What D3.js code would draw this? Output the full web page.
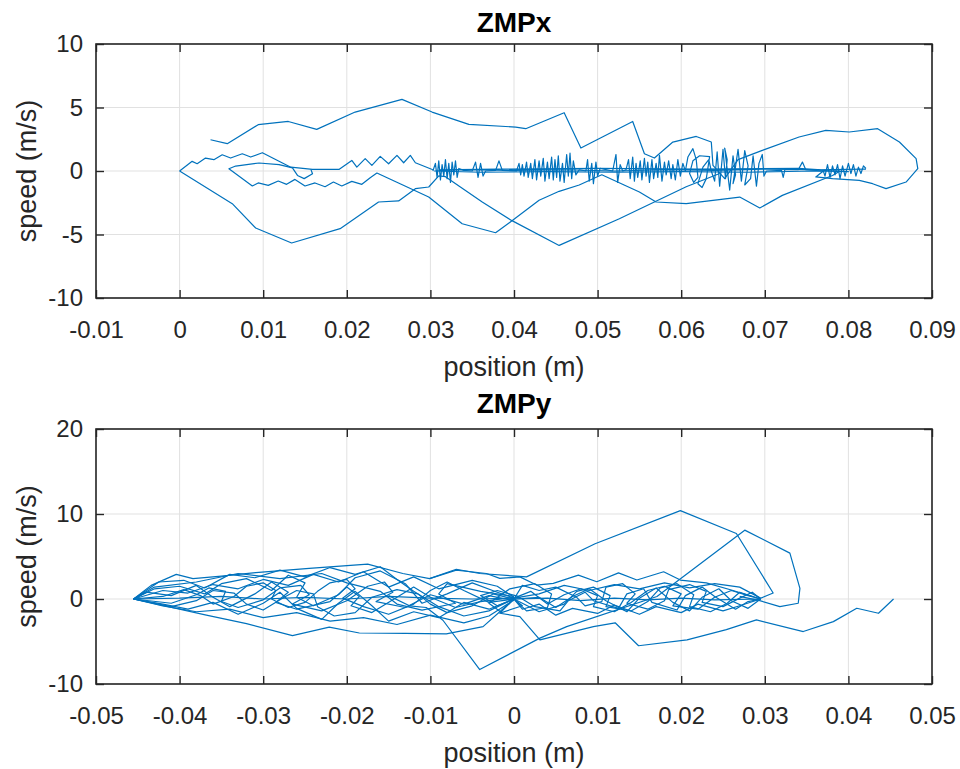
<!DOCTYPE html>
<html>
<head>
<meta charset="utf-8">
<script src="https://cdn.jsdelivr.net/npm/d3@7"></script>
<style>
  body { margin: 0; background: #fff; }
  svg text { font-family: "Liberation Sans", Arial, Helvetica, sans-serif; fill: #262626; }
</style>
</head>
<body>
<div id="chart"></div>
<script>
// ZMP phase plots: speed vs position.
// Every trace is a list of [position (m), speed (m/s)] pairs.

// ---- ZMPx ----
const zmpxXTicks = [-0.01, 0, 0.01, 0.02, 0.03, 0.04, 0.05, 0.06, 0.07, 0.08, 0.09];
const zmpxYTicks = [-10, -5, 0, 5, 10];

const zmpxUpper = [[0.0037,2.46],[0.0057,2.15],[0.0094,3.65],[0.0130,3.90],[0.0164,3.28],[0.0210,4.64],
  [0.0266,5.64],[0.0302,4.64],[0.0346,3.67],[0.0402,3.46],[0.0414,3.33],[0.0460,4.59],[0.0480,1.81],
  [0.0542,3.90],[0.0556,1.36],[0.0568,1.02],[0.0590,2.28],[0.0618,2.72],[0.0636,2.28],[0.0638,0.44],
  [0.0652,-0.6],[0.0668,0.9],[0.0697,1.62],[0.0741,2.68],[0.0773,3.20],[0.0801,3.07],[0.0835,3.33],
  [0.0861,2.28],[0.0881,0.97],[0.0883,0.18],[0.0869,-0.87],[0.0845,-1.39],[0.0829,-1.0],[0.0813,-0.74],
  [0.0781,-0.60],[0.0761,-0.47],[0.0770,0.0]];

const zmpxLower = [[0,0],[0.0063,-2.57],[0.0091,-4.49],[0.0134,-5.67],[0.0192,-4.54],[0.0238,-2.44],
  [0.0262,-2.36],[0.0282,-1.39],[0.0298,-1.26],[0.0310,-0.39],[0.0318,-0.45],[0.0362,-2.44],
  [0.0397,-3.89],[0.0454,-5.86],[0.0526,-3.76],[0.0606,-1.24],[0.0646,-0.2]];

const zmpxZigzag = [[0,0],[0.0015,0.76],[0.0021,0.57],[0.0031,1.02],[0.0041,0.89],[0.0051,1.28],
  [0.0061,1.02],[0.0075,1.36],[0.0085,1.10],[0.0099,1.44],[0.0133,0.30],[0.0159,0.13],[0.0191,0.13],
  [0.0206,0.83],[0.0212,0.31],[0.0222,0.97],[0.0230,0.44],[0.0240,1.15],[0.0250,0.57],[0.0260,1.23],
  [0.0268,0.65],[0.0276,1.23],[0.0282,0.65],[0.0303,0.10]];

const zmpxLoop = [[0.0157,0.13],[0.0159,-0.21],[0.0149,-0.60],[0.0141,-0.35],[0.0135,0.24],[0.0119,0.50],
  [0.0095,0.63],[0.0067,0.39],[0.0059,0.18],[0.0087,-1.18],[0.0094,-0.94],[0.0106,-1.13],[0.0118,-0.79],
  [0.0128,-1.05],[0.0138,-0.66],[0.0150,-1.18],[0.0162,-0.94],[0.0174,-1.24],[0.0184,-0.87],[0.0194,-1.18],
  [0.0206,-0.82],[0.0218,-1.05],[0.0228,-0.53],[0.0236,-0.16],[0.0298,-2.05],[0.0338,-4.15],[0.0378,-4.86],
  [0.0398,-3.90],[0.0430,-2.30],[0.0454,-1.60],[0.0478,-1.10],[0.0505,-0.30],[0.0550,-1.65],[0.0570,-2.44],
  [0.0606,-2.57],[0.0670,-2.05],[0.0694,-2.91],[0.0721,-1.92],[0.0781,-0.35],[0.0790,0.0]];

const zmpxNoise = [[0.0303,0.0],[0.0306,0.6],[0.0308,-0.5],[0.0310,0.8],[0.0312,-0.7],[0.0314,0.5],
  [0.0316,-0.4],[0.0318,0.9],[0.0320,-0.6],[0.0322,0.6],[0.0324,-0.9],[0.0326,0.7],[0.0328,-0.3],
  [0.0330,0.8],[0.0332,-0.5],[0.0334,0.2],[0.0340,0.05],[0.0350,0.0],[0.0354,0.7],[0.0357,-0.5],
  [0.0360,0.6],[0.0363,-0.4],[0.0366,0.0],[0.0378,0.05],[0.0382,0.8],[0.0386,0.05],[0.0403,0.0],
  [0.0406,0.6],[0.0408,-0.3],[0.0410,0.5],[0.0412,-0.4],[0.0415,0.7],[0.0417,-0.5],[0.0420,0.6],
  [0.0422,-0.6],[0.0425,0.9],[0.0427,-0.7],[0.0430,0.8],[0.0432,-0.4],[0.0435,1.0],[0.0437,-0.8],
  [0.0440,0.7],[0.0442,-0.6],[0.0445,1.1],[0.0447,-0.7],[0.0449,0.9],[0.0451,-0.5],[0.0453,1.2],
  [0.0455,-0.8],[0.0458,0.6],[0.0460,-0.9],[0.0463,1.3],[0.0465,-0.4],[0.0467,1.4],[0.0469,-0.6],
  [0.0471,0.8],[0.0474,-0.3],[0.0478,0.1],[0.0486,0.0],[0.0488,0.9],[0.0490,-0.8],[0.0493,0.6],
  [0.0495,-1.0],[0.0498,0.7],[0.0500,-0.4],[0.0503,0.2],[0.0518,0.0],[0.0522,1.3],[0.0524,-0.9],
  [0.0527,0.5],[0.0530,0.0],[0.0534,0.1],[0.0537,0.9],[0.0539,-0.6],[0.0542,1.1],[0.0544,-0.8],
  [0.0546,0.6],[0.0548,-0.5],[0.0551,0.8],[0.0553,-0.7],[0.0556,1.0],[0.0558,-0.4],[0.0560,0.7],
  [0.0562,-0.9],[0.0565,0.9],[0.0567,-0.6],[0.0570,0.6],[0.0572,-0.5],[0.0574,1.23],[0.0577,-0.8],
  [0.0580,0.7],[0.0582,-0.3],[0.0585,0.8],[0.0588,-0.6],[0.0590,0.5],[0.0593,-0.7],[0.0596,0.9],
  [0.0599,-0.4],[0.0602,0.6],[0.0605,0.0],[0.0608,1.1],[0.0614,1.76],[0.0618,0.9],[0.0620,-0.5],
  [0.0615,-0.9],[0.0610,-0.2],[0.0614,0.8],[0.0622,1.2],[0.0634,1.13],[0.0630,-0.6],[0.0625,-1.3],
  [0.0620,-1.0],[0.0626,0.3],[0.0633,0.9],[0.0636,0.0],[0.0640,-0.8],[0.0643,1.5],[0.0646,-1.2],
  [0.0650,1.7],[0.0653,-0.6],[0.0655,0.9],[0.0652,1.8],[0.0658,-1.5],[0.0662,1.2],[0.0665,-0.3],
  [0.0662,-1.0],[0.0668,1.7],[0.0672,-0.8],[0.0676,1.6],[0.0680,0.4],[0.0676,-1.1],[0.0683,-0.6],
  [0.0686,1.2],[0.0690,-1.2],[0.0693,0.6],[0.0697,1.3],[0.0699,-0.4],[0.0702,0.0],[0.0720,0.05],
  [0.0722,-0.5],[0.0724,0.1],[0.0740,0.1],[0.0745,0.7],[0.0749,0.1],[0.0770,0.0],[0.0772,-0.4],
  [0.0775,0.5],[0.0778,-0.5],[0.0781,0.4],[0.0784,-0.3],[0.0787,0.5],[0.0790,-0.6],[0.0793,0.4],
  [0.0796,-0.4],[0.0800,0.6],[0.0803,-0.2],[0.0806,0.5],[0.0809,-0.4],[0.0812,0.3],[0.0815,-0.2],
  [0.0818,0.4],[0.0821,0.2]];

const zmpxFlat = [[0.0821,0.15],[0.0760,0.1],[0.0700,0.15],[0.0640,0.05],[0.0580,0.1],[0.0520,0.0],
  [0.0460,0.1],[0.0400,0.05],[0.0340,0.1],[0.0305,0.0],[0.0360,-0.1],[0.0440,-0.05],[0.0520,-0.1],
  [0.0600,-0.05],[0.0680,-0.1],[0.0760,0.0],[0.0800,-0.05],[0.0740,0.2],[0.0620,0.15],[0.0500,0.2],
  [0.0380,0.15],[0.0310,0.1]];

// ---- ZMPy ----
const zmpyXTicks = [-0.05, -0.04, -0.03, -0.02, -0.01, 0, 0.01, 0.02, 0.03, 0.04, 0.05];
const zmpyYTicks = [-10, 0, 10, 20];

const zmpyOuterUpper = [[-0.0455,0],[-0.0434,1.6],[-0.0404,2.9],[-0.0384,2.4],[-0.0350,2.7],[-0.0309,3.1],
  [-0.0245,3.6],[-0.0175,4.1],[-0.0133,3.0],[-0.0101,2.4],[-0.0069,3.5],[-0.0041,3.0],[0.0015,2.6],
  [0.0097,6.5],[0.0199,10.4],[0.0266,7.7],[0.0310,0.7],[0.0290,-0.1]];

const zmpyOuterLower = [[0.0000,0.0],[-0.0037,-3.25],[-0.0081,-4.1],[-0.0130,-4.05],[-0.0185,-4.0],
  [-0.0221,-3.3],[-0.0265,-4.3],[-0.0320,-2.9],[-0.0368,-1.9],[-0.0455,0]];

const zmpyExcursion = [[-0.0150,0.4],[-0.0125,-0.8],[-0.0105,-1.0],[-0.0085,-2.5],[-0.0041,-8.3],
  [0.0031,-4.6],[0.0063,-3.25],[0.0171,0.3],[0.0276,8.1],[0.0330,5.4],[0.0342,1.25],[0.0340,-0.5],
  [0.0318,-0.9],[0.0294,-0.2],[0.0270,0.3]];

const zmpyEnd = [[0.0000,0.0],[-0.0017,-1.68],[0.0007,-2.07],[0.0031,-4.8],[0.0095,-3.25],[0.0121,-2.8],
  [0.0149,-5.5],[0.0207,-4.8],[0.0254,-3.6],[0.0290,-2.46],[0.0346,-3.83],[0.0382,-2.66],[0.0410,-1.09],
  [0.0436,-1.68],[0.0454,0]];

const zmpyMidZig = [[-0.0101,2.4],[-0.0069,3.4],[-0.0033,3.0],[-0.0017,2.42],[0.0007,2.6],[0.0027,1.64],
  [0.0047,1.84],[0.0077,2.81],[0.0099,2.03],[0.0125,3.08],[0.0147,2.23],[0.0179,3.2],[0.0199,2.23],
  [0.0230,1.9],[0.0262,1.0],[0.0285,0.3]];

const zmpyLeftA = [[-0.0455,0],[-0.0430,1.2],[-0.0400,1.5],[-0.0370,0.6],[-0.0350,1.8],[-0.0320,2.4],
  [-0.0290,1.0],[-0.0270,2.8],[-0.0250,1.9],[-0.0260,0.2],[-0.0240,-0.8],[-0.0210,0.5],[-0.0190,2.5],
  [-0.0160,3.3],[-0.0130,1.8],[-0.0110,-0.5],[-0.0080,0.6],[-0.0050,1.9],[-0.0020,0.8],[0.0000,0.1]];
const zmpyLeftB = [[0.0000,0.0],[-0.0030,-1.2],[-0.0060,-0.4],[-0.0090,-2.2],[-0.0120,-1.5],[-0.0150,-2.6],
  [-0.0170,-0.8],[-0.0190,0.9],[-0.0210,-0.5],[-0.0230,-2.4],[-0.0260,-1.1],[-0.0280,0.8],[-0.0300,-0.5],
  [-0.0330,-1.8],[-0.0360,-0.4],[-0.0390,-1.2],[-0.0420,-0.6],[-0.0455,0]];
const zmpyLeftC = [[-0.0455,0],[-0.0440,0.8],[-0.0410,0.4],[-0.0380,1.6],[-0.0360,0.2],[-0.0340,-0.9],
  [-0.0310,0.6],[-0.0290,2.0],[-0.0270,0.8],[-0.0285,-0.4],[-0.0260,-1.2],[-0.0220,-0.3],[-0.0200,1.4],
  [-0.0185,0.3],[-0.0195,-0.8],[-0.0170,-1.6],[-0.0140,0.2],[-0.0120,1.4],[-0.0100,0.2],[-0.0070,-1.0],
  [-0.0040,-0.3],[0.0000,0.2]];
const zmpyLeftD = [[0.0000,0.2],[-0.0020,1.5],[-0.0050,2.2],[-0.0090,1.2],[-0.0120,2.6],[-0.0150,1.4],
  [-0.0180,3.2],[-0.0210,2.0],[-0.0240,2.9],[-0.0270,1.6],[-0.0300,2.3],[-0.0330,1.2],[-0.0360,1.7],
  [-0.0390,0.7],[-0.0420,1.0],[-0.0455,0]];
const zmpyLeftE = [[-0.0455,0],[-0.0400,0.1],[-0.0350,0.3],[-0.0300,0.0],[-0.0250,0.2],[-0.0200,0.0],
  [-0.0150,0.3],[-0.0100,0.1],[-0.0050,0.0],[0.0000,0.1]];
const zmpyLeftF = [[0.0000,-0.1],[-0.0030,-2.0],[-0.0060,-2.8],[-0.0100,-1.9],[-0.0140,-3.0],[-0.0180,-2.2],
  [-0.0220,-2.6],[-0.0260,-1.6],[-0.0300,-2.2],[-0.0340,-1.2],[-0.0380,-1.5],[-0.0420,-0.8],[-0.0455,0]];
const zmpyLeftG = [[-0.0455,0],[-0.0410,-0.5],[-0.0380,0.5],[-0.0365,1.3],[-0.0345,0.9],[-0.0350,-0.3],
  [-0.0330,-1.0],[-0.0300,-0.1],[-0.0280,1.3],[-0.0255,1.6],[-0.0245,0.5],[-0.0265,-0.6],[-0.0230,-1.4],
  [-0.0200,-0.2],[-0.0175,1.5],[-0.0155,2.0],[-0.0145,0.8],[-0.0165,-0.3],[-0.0130,-1.0],[-0.0100,0.5],
  [-0.0060,-0.6],[-0.0030,0.4],[0.0000,-0.2]];
const zmpyLeftH = [[0.0000,0.3],[-0.0040,0.9],[-0.0080,1.8],[-0.0090,0.6],[-0.0070,-0.5],[-0.0110,-1.3],
  [-0.0140,-0.6],[-0.0160,0.9],[-0.0200,1.9],[-0.0230,3.0],[-0.0280,2.4],[-0.0330,3.0],[-0.0380,2.0],
  [-0.0430,1.4],[-0.0455,0]];
const zmpyLeftI = [[-0.0455,0],[-0.0420,0.3],[-0.0395,1.1],[-0.0375,0.4],[-0.0360,-0.6],[-0.0335,0.3],
  [-0.0320,1.5],[-0.0300,1.9],[-0.0285,1.0],[-0.0290,0.0],[-0.0270,-1.0],[-0.0250,-0.4],[-0.0235,0.9],
  [-0.0220,1.9],[-0.0200,2.3],[-0.0190,1.2],[-0.0205,0.1],[-0.0180,-0.9],[-0.0150,-1.8],[-0.0120,-0.6],
  [-0.0100,1.0],[-0.0080,2.0],[-0.0060,1.0],[-0.0030,-0.4],[0.0000,0.0]];
const zmpyLeftJ = [[0.0000,0.0],[-0.0025,0.6],[-0.0050,-0.8],[-0.0080,-1.6],[-0.0100,-0.6],[-0.0115,0.6],
  [-0.0140,1.1],[-0.0170,0.2],[-0.0190,-1.6],[-0.0215,-2.0],[-0.0235,-0.9],[-0.0240,0.6],[-0.0260,1.0],
  [-0.0275,0.2],[-0.0300,-1.3],[-0.0320,-0.6],[-0.0335,0.7],[-0.0360,1.0],[-0.0380,-0.2],[-0.0410,-0.9],
  [-0.0455,0]];
const zmpyLeftK = [[-0.0455,0],[-0.0425,2.0],[-0.0395,2.2],[-0.0370,1.3],[-0.0340,2.9],[-0.0310,2.5],
  [-0.0280,3.4],[-0.0250,2.6],[-0.0220,3.7],[-0.0190,2.9],[-0.0160,3.8],[-0.0140,2.3],[-0.0120,0.9],
  [-0.0090,-0.9],[-0.0060,-2.0],[-0.0030,-1.4],[0.0000,0.0]];

const zmpyRightA = [[0.0000,0.1],[0.0020,0.9],[0.0040,-0.6],[0.0060,0.5],[0.0080,1.2],[0.0100,0.4],
  [0.0095,-0.9],[0.0120,-1.5],[0.0140,-0.4],[0.0160,1.0],[0.0180,1.5],[0.0200,0.6],[0.0190,-0.8],
  [0.0220,-1.2],[0.0240,0.2],[0.0260,1.0],[0.0280,0.4],[0.0295,0.0]];
const zmpyRightB = [[0.0295,0.0],[0.0270,-0.8],[0.0250,-1.4],[0.0220,-0.6],[0.0200,-1.6],[0.0170,-0.9],
  [0.0150,-1.8],[0.0120,-0.7],[0.0100,-1.7],[0.0070,-1.1],[0.0050,-1.9],[0.0030,-0.6],[0.0010,-1.2],
  [0.0000,0.0]];
const zmpyRightC = [[0.0000,0.0],[0.0010,1.6],[0.0030,1.0],[0.0050,1.4],[0.0075,0.2],[0.0085,-0.8],
  [0.0105,-0.3],[0.0110,1.4],[0.0130,1.8],[0.0145,0.6],[0.0135,-0.5],[0.0160,-1.2],[0.0180,-0.2],
  [0.0185,1.1],[0.0210,1.7],[0.0230,0.9],[0.0225,-0.4],[0.0250,-0.9],[0.0270,0.1],[0.0285,0.8],
  [0.0295,0.0]];
const zmpyRightD = [[0.0295,0.1],[0.0270,1.4],[0.0240,1.8],[0.0210,1.3],[0.0180,1.9],[0.0150,1.2],
  [0.0120,1.7],[0.0090,1.0],[0.0060,1.6],[0.0030,0.6],[0.0000,0.1]];
const zmpyRightE = [[0.0000,0.0],[0.0040,0.1],[0.0080,-0.2],[0.0120,0.1],[0.0160,-0.1],[0.0200,0.1],
  [0.0240,-0.1],[0.0295,0.0]];
const zmpyRightF = [[0.0000,0.0],[-0.0020,-0.8],[-0.0040,0.4],[-0.0020,1.0],[0.0005,0.3],[0.0025,-0.9],
  [0.0055,-1.4],[0.0065,-0.2],[0.0085,0.8],[0.0095,-0.2],[0.0125,-1.1],[0.0135,0.6],[0.0155,1.2],
  [0.0165,-0.4],[0.0195,-1.3],[0.0205,0.4],[0.0225,1.4],[0.0240,0.3],[0.0265,-1.2],[0.0280,-0.3],
  [0.0295,0.0]];
const zmpyRightG = [[0.0000,0.0],[0.0030,-1.5],[0.0060,-0.6],[0.0075,0.9],[0.0095,1.4],[0.0115,0.4],
  [0.0110,-0.9],[0.0140,-1.4],[0.0160,-0.3],[0.0175,1.3],[0.0195,1.8],[0.0215,0.5],[0.0210,-0.9],
  [0.0235,-1.5],[0.0255,-0.5],[0.0270,0.8],[0.0295,0.0]];
const zmpyRightH = [[0.0295,0.0],[0.0280,-1.1],[0.0260,-0.2],[0.0245,1.2],[0.0225,0.2],[0.0210,-1.4],
  [0.0190,-0.4],[0.0170,1.3],[0.0150,0.1],[0.0135,-1.5],[0.0110,-0.2],[0.0090,1.2],[0.0070,0.3],
  [0.0050,-1.0],[0.0030,0.2],[0.0000,0.0]];
const zmpyKnot = [[0.0000,0.0],[0.0015,-1.4],[0.0040,-1.0],[0.0045,0.6],[0.0025,1.8],[-0.0005,1.2],
  [-0.0030,-0.5],[-0.0015,-1.6],[0.0010,-0.8],[0.0000,0.0]];

// ---- layout ----
const width = 960, height = 769;
const plotLeft = 96, plotRight = 932;
const lineColor = "#0072bd";
const axisColor = "#262626";
const gridColor = "#e1e1e1";

const svg = d3.select("#chart")
  .append("svg")
  .attr("width", width)
  .attr("height", height);

svg.append("rect").attr("width", width).attr("height", height).attr("fill", "#fff");

function drawPanel(p) {
  const x = d3.scaleLinear().domain(p.xDomain).range([plotLeft, plotRight]);
  const y = d3.scaleLinear().domain(p.yDomain).range([p.bottom, p.top]);
  const g = svg.append("g");

  // grid lines
  g.append("g").selectAll("line")
    .data(p.xTicks)
    .join("line")
    .attr("x1", d => x(d)).attr("x2", d => x(d))
    .attr("y1", p.top).attr("y2", p.bottom)
    .attr("stroke", gridColor);

  g.append("g").selectAll("line")
    .data(p.yTicks)
    .join("line")
    .attr("x1", plotLeft).attr("x2", plotRight)
    .attr("y1", d => y(d)).attr("y2", d => y(d))
    .attr("stroke", gridColor);

  // traces
  const line = d3.line().x(d => x(d[0])).y(d => y(d[1]));
  g.append("g").selectAll("path")
    .data(p.traces)
    .join("path")
    .attr("d", line)
    .attr("fill", "none")
    .attr("stroke", lineColor)
    .attr("stroke-width", 1.2)
    .attr("stroke-linejoin", "round");

  // axes, ticks pointing inward on all four sides
  const fmt = d => String(d);
  const bottomAxis = g.append("g")
    .attr("transform", `translate(0,${p.bottom})`)
    .call(d3.axisBottom(x).tickValues(p.xTicks).tickFormat(fmt).tickSize(-8).tickPadding(23));
  const leftAxis = g.append("g")
    .attr("transform", `translate(${plotLeft},0)`)
    .call(d3.axisLeft(y).tickValues(p.yTicks).tickFormat(fmt).tickSize(-8).tickPadding(13));
  const topAxis = g.append("g")
    .attr("transform", `translate(0,${p.top})`)
    .call(d3.axisTop(x).tickValues(p.xTicks).tickFormat("").tickSize(-8));
  const rightAxis = g.append("g")
    .attr("transform", `translate(${plotRight},0)`)
    .call(d3.axisRight(y).tickValues(p.yTicks).tickFormat("").tickSize(-8));

  [bottomAxis, leftAxis, topAxis, rightAxis].forEach(a => {
    a.select(".domain").remove();
    a.selectAll(".tick line").attr("stroke", axisColor).attr("stroke-width", 1.4);
    a.selectAll(".tick text")
      .attr("fill", axisColor)
      .style("font-size", "24px");
  });

  // box
  g.append("rect")
    .attr("x", plotLeft).attr("y", p.top)
    .attr("width", plotRight - plotLeft).attr("height", p.bottom - p.top)
    .attr("fill", "none")
    .attr("stroke", axisColor)
    .attr("stroke-width", 1.6);

  // title and labels
  g.append("text")
    .attr("x", (plotLeft + plotRight) / 2)
    .attr("y", p.titleY)
    .attr("text-anchor", "middle")
    .style("font-size", "28px")
    .style("font-weight", "bold")
    .style("fill", "#000")
    .text(p.title);

  g.append("text")
    .attr("x", (plotLeft + plotRight) / 2)
    .attr("y", p.bottom + 78)
    .attr("text-anchor", "middle")
    .style("font-size", "27px")
    .text("position (m)");

  g.append("text")
    .attr("transform", `translate(36,${(p.top + p.bottom) / 2}) rotate(-90)`)
    .attr("text-anchor", "middle")
    .style("font-size", "27px")
    .text("speed (m/s)");
}

drawPanel({
  title: "ZMPx",
  titleY: 32,
  top: 44,
  bottom: 298,
  xDomain: [-0.01, 0.09],
  yDomain: [-10, 10],
  xTicks: zmpxXTicks,
  yTicks: zmpxYTicks,
  traces: [zmpxUpper, zmpxLower, zmpxZigzag, zmpxLoop, zmpxNoise, zmpxFlat]
});

drawPanel({
  title: "ZMPy",
  titleY: 413,
  top: 429,
  bottom: 684,
  xDomain: [-0.05, 0.05],
  yDomain: [-10, 20],
  xTicks: zmpyXTicks,
  yTicks: zmpyYTicks,
  traces: [zmpyOuterUpper, zmpyOuterLower, zmpyExcursion, zmpyEnd, zmpyMidZig,
    zmpyLeftA, zmpyLeftB, zmpyLeftC, zmpyLeftD, zmpyLeftE, zmpyLeftF, zmpyLeftG, zmpyLeftH,
    zmpyLeftI, zmpyLeftJ, zmpyLeftK,
    zmpyRightA, zmpyRightB, zmpyRightC, zmpyRightD, zmpyRightE, zmpyRightF, zmpyRightG, zmpyRightH,
    zmpyKnot]
});
</script>
</body>
</html>
